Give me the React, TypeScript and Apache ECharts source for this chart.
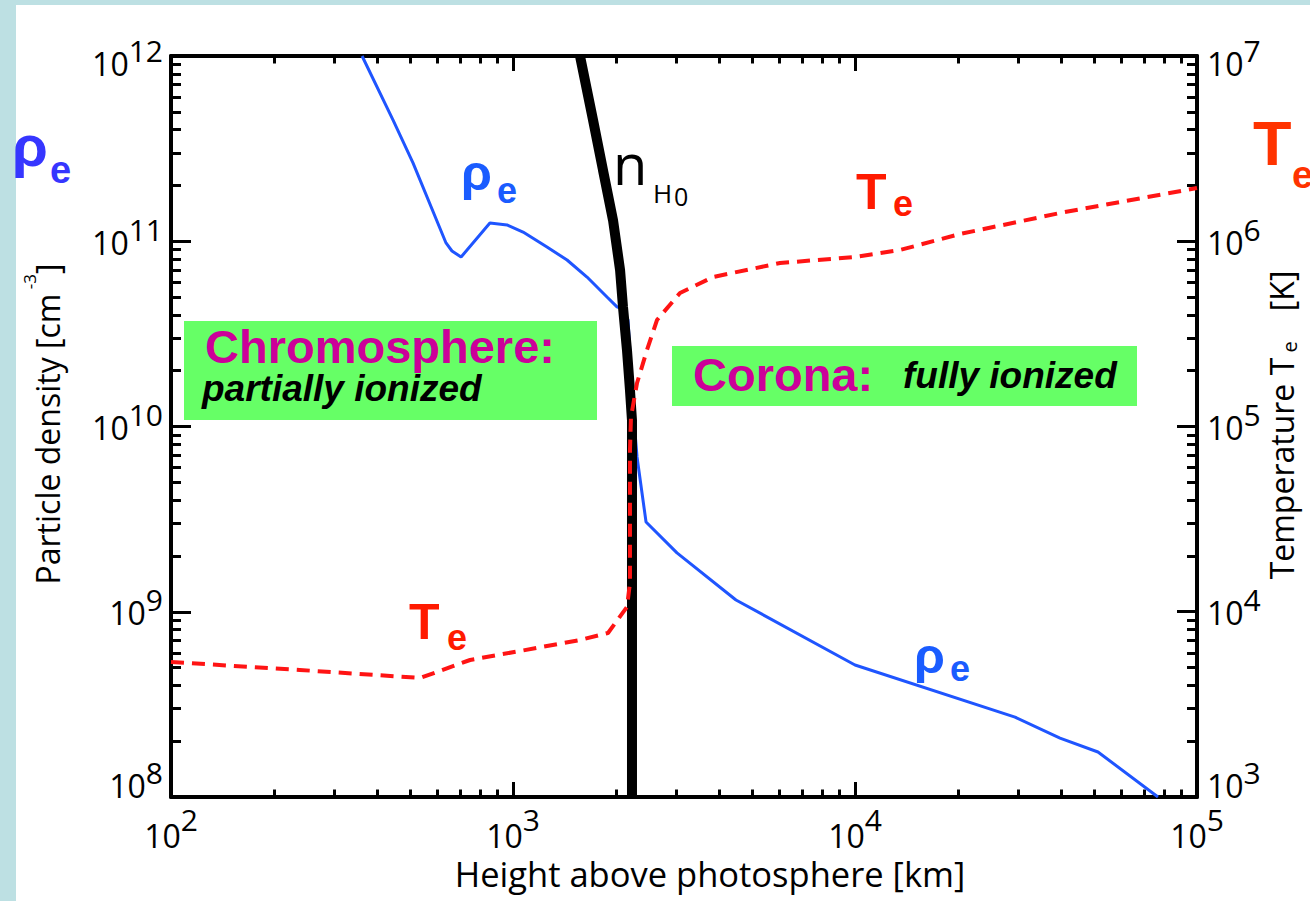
import { useEffect, useRef } from 'react';
import * as echarts from 'echarts';

// ---- data ----
// electron density rho_e  [cm^-3]  vs height [km]
const rhoHeight = [362, 446, 510, 637, 663, 705, 856, 961, 1070, 1257, 1439, 1646, 1883, 2014, 2083, 2169, 2258, 2305, 2449, 3016, 4487, 10000, 29370, 39760, 51340, 76900];
const rhoDensity = [1e12, 4.51e11, 2.65e11, 9.79e10, 8.86e10, 8.22e10, 1.254e11, 1.224e11, 1.121e11, 9.31e10, 7.92e10, 6.41e10, 5.0e10, 4.42e10, 4.31e10, 3.76e10, 1.084e10, 6.85e9, 3.05e9, 2.08e9, 1.157e9, 5.16e8, 2.7e8, 2.08e8, 1.75e8, 1e8];

// neutral hydrogen density n_H0 [cm^-3]
const nH0Height = [1570, 1714, 1833, 1961, 2056, 2097, 2154, 2198, 2228, 2228, 2228];
const nH0Density = [1e12, 4.51e11, 2.42e11, 1.3e11, 7.0e10, 4.42e10, 2.59e10, 1.57e10, 1.08e10, 4.0e9, 1e8];

// electron temperature T_e [K]
const teHeight = [100, 238, 535, 749, 1048, 1570, 1896, 2154, 2198, 2198, 2213, 2305, 2465, 2636, 3078, 3844, 6036, 10000, 13540, 20280, 39760, 100000];
const teTemperature = [5355, 4850, 4390, 5490, 6140, 7040, 7681, 10610, 14300, 74670, 112500, 171700, 258800, 375700, 525600, 641200, 763000, 822000, 897000, 1094000, 1421000, 1938000];

// axis extents (decade tick labels are 10^n)
const xExtent = [100, 100000];
const densityExtent = [1e8, 1e12];
const temperatureExtent = [1e3, 1e7];
const xDecades = [2, 3, 4, 5];
const densityDecades = [8, 9, 10, 11, 12];
const temperatureDecades = [3, 4, 5, 6, 7];
const minorMultipliers = [2, 3, 4, 5, 6, 7, 8, 9];

const minorTicks = (decades: number[]) =>
  decades.slice(0, -1).flatMap((e) => minorMultipliers.map((k) => Math.log10(k) + e));

const SANS = '"Open Sans", "DejaVu Sans", sans-serif';
const ARIAL = '"Liberation Sans", Arial, sans-serif';

// rich styles for "10" + raised exponent
const base = (lh: number) => ({ fontSize: 32, fontFamily: SANS, color: '#000', lineHeight: lh, verticalAlign: 'bottom' });
const sup = (lh: number, raise: number) => ({
  fontSize: 30,
  fontFamily: SANS,
  color: '#000',
  lineHeight: lh,
  verticalAlign: 'bottom',
  padding: [0, 0, raise, 0],
});
const supRich = {
  bLow: base(8),
  sLow: sup(8, 14),
  bMid: base(34),
  sMid: sup(34, 14),
  bHigh: base(46),
  sHigh: sup(46, 14),
  bX: base(34),
  sX: sup(34, 17),
};

const expOf = (v: number) => Math.round(Math.log10(v));
const xFormatter = (v: number) => `{bX|10}{sX|${expOf(v)}}`;
// y labels: the lowest one sits above its tick, the highest one a bit below, others centred on "10"
const yFormatter = (decades: number[]) => (v: number) => {
  const e = expOf(v);
  const k = e === decades[0] ? 'Low' : e === decades[decades.length - 1] ? 'High' : 'Mid';
  return `{b${k}|10}{s${k}|${e}}`;
};

const lineStyle = { color: '#000', width: 4 };
const tickLine = { color: '#000', width: 3 };

function logAxis(range: number[], position: string, label: any, tickLen: number) {
  return {
    type: 'log',
    logBase: 10,
    min: range[0],
    max: range[1],
    position,
    offset: 0,
    axisLine: { show: true, onZero: false, lineStyle },
    axisTick: { show: true, inside: true, length: tickLen, lineStyle: tickLine },
    axisLabel: label ? { show: true, rich: supRich, ...label } : { show: false },
    splitLine: { show: false },
    minorTick: { show: false },
    minorSplitLine: { show: false },
  };
}

function minorAxis(decades: number[], position: string, tickLen: number) {
  return {
    type: 'value',
    min: decades[0],
    max: decades[decades.length - 1],
    position,
    offset: 0,
    axisLine: { show: false, onZero: false },
    axisTick: { show: true, inside: true, length: tickLen, lineStyle: tickLine, customValues: minorTicks(decades) },
    axisLabel: { show: false },
    splitLine: { show: false },
  };
}

function label(text: string, x: number, y: number, size: number, fill: string, extra: any = {}) {
  return {
    type: 'text',
    x,
    y,
    z: 10,
    style: {
      text,
      fontSize: size,
      fontFamily: ARIAL,
      fontWeight: 'bold',
      fill,
      align: 'left',
      verticalAlign: 'middle',
      ...extra,
    },
  };
}

export default function App() {
  const ref = useRef<HTMLDivElement>(null);
  useEffect(() => {
    if (!ref.current) return;
    const chart = echarts.init(ref.current, undefined, { renderer: 'svg' });
    const zip = (a: number[], b: number[]) => a.map((v, i) => [v, b[i]]);
    const option: any = {
      animation: false,
      backgroundColor: '#ffffff',
      grid: { left: 171, right: 113, top: 56, bottom: 104, containLabel: false, outerBoundsMode: 'none' },
      xAxis: [
        logAxis(xExtent, 'bottom', { margin: 20, formatter: xFormatter }, 15),
        logAxis(xExtent, 'top', null, 15),
        minorAxis(xDecades, 'bottom', 7.5),
        minorAxis(xDecades, 'top', 7.5),
      ],
      yAxis: [
        logAxis(densityExtent, 'left', { margin: 8, formatter: yFormatter(densityDecades) }, 20),
        logAxis(temperatureExtent, 'right', { margin: 10, formatter: yFormatter(temperatureDecades) }, 20),
        minorAxis(densityDecades, 'left', 10),
        minorAxis(temperatureDecades, 'right', 10),
      ],
      series: [
        {
          name: 'rho_e',
          type: 'line',
          xAxisIndex: 0,
          yAxisIndex: 0,
          data: zip(rhoHeight, rhoDensity),
          showSymbol: false,
          symbol: 'none',
          z: 3,
          lineStyle: { color: '#1f55ff', width: 3 },
        },
        {
          name: 'n_H0',
          type: 'line',
          xAxisIndex: 0,
          yAxisIndex: 0,
          data: zip(nH0Height, nH0Density),
          showSymbol: false,
          symbol: 'none',
          z: 4,
          lineStyle: { color: '#000', width: 10 },
        },
        {
          name: 'T_e',
          type: 'line',
          xAxisIndex: 0,
          yAxisIndex: 1,
          data: zip(teHeight, teTemperature),
          showSymbol: false,
          symbol: 'none',
          z: 5,
          lineStyle: { color: '#ff1414', width: 4, type: [13, 8] },
        },
      ],
      graphic: [
        { type: 'rect', z: 0, shape: { x: 0, y: 0, width: 16, height: 901 }, style: { fill: '#bde0e3' } },
        { type: 'rect', z: 0, shape: { x: 0, y: 0, width: 1310, height: 5 }, style: { fill: '#bde0e3' } },
        { type: 'rect', z: 1, shape: { x: 184, y: 321, width: 413, height: 99 }, style: { fill: '#66ff66' } },
        { type: 'rect', z: 1, shape: { x: 672, y: 346, width: 465, height: 60 }, style: { fill: '#66ff66' } },
        label('Chromosphere:', 205, 346, 47, '#cc0099'),
        label('partially ionized', 202, 388, 37, '#000', { fontStyle: 'italic' }),
        label('Corona:', 693, 374, 47, '#cc0099'),
        label('fully ionized', 903, 375, 37, '#000', { fontStyle: 'italic' }),
        // big side labels
        label('ρ', 12, 145, 58, '#3636ff'),
        label('e', 50, 170, 38, '#3636ff'),
        label('T', 1253, 143, 63, '#ff3300'),
        label('e', 1292, 175, 38, '#ff3300'),
        // curve labels
        label('ρ', 461, 173, 50, '#1a5cff'),
        label('e', 497, 190, 36, '#1a5cff'),
        label('ρ', 914, 656, 50, '#1a5cff'),
        label('e', 950, 668, 36, '#1a5cff'),
        label('T', 856, 192, 50, '#ff1a00'),
        label('e', 893, 203, 36, '#ff1a00'),
        label('T', 409, 622, 50, '#ff1a00'),
        label('e', 447, 637, 36, '#ff1a00'),
        label('n', 613, 163, 56, '#000', { fontFamily: SANS, fontWeight: 'normal' }),
        label('H', 653, 193, 26, '#000', { fontFamily: SANS, fontWeight: 'normal' }),
        label('0', 674, 196, 25, '#000', { fontFamily: SANS, fontWeight: 'normal' }),
        // axis titles
        {
          type: 'text',
          x: 710,
          y: 873,
          style: {
            text: 'Height above photosphere [km]',
            fontSize: 34.5,
            lineHeight: 30,
            fontFamily: SANS,
            fill: '#000',
            align: 'center',
            verticalAlign: 'middle',
          },
        },
        {
          type: 'text',
          x: 42,
          y: 424,
          rotation: Math.PI / 2,
          style: {
            text: '{a|Particle density [cm}{s| -3}{a|]}',
            align: 'center',
            verticalAlign: 'middle',
            fill: '#000',
            rich: {
              a: { fontSize: 32, fontFamily: SANS, fill: '#000', lineHeight: 42, verticalAlign: 'bottom' },
              s: { fontSize: 17, fontFamily: SANS, fill: '#000', verticalAlign: 'top' },
            },
          },
        },
        {
          type: 'text',
          x: 1281,
          y: 425,
          rotation: Math.PI / 2,
          style: {
            text: '{a|Temperature T}{s| e }{a|   [K]}',
            align: 'center',
            verticalAlign: 'middle',
            fill: '#000',
            rich: {
              a: { fontSize: 32, fontFamily: SANS, fill: '#000', lineHeight: 36, verticalAlign: 'middle' },
              s: { fontSize: 20, fontFamily: SANS, fill: '#000', verticalAlign: 'bottom' },
            },
          },
        },
      ],
    };
    chart.setOption(option);
    return () => chart.dispose();
  }, []);
  return (
    <div
      ref={ref}
      style={{ position: 'absolute', left: 0, top: 0, width: 1310, height: 901 }}
    />
  );
}
